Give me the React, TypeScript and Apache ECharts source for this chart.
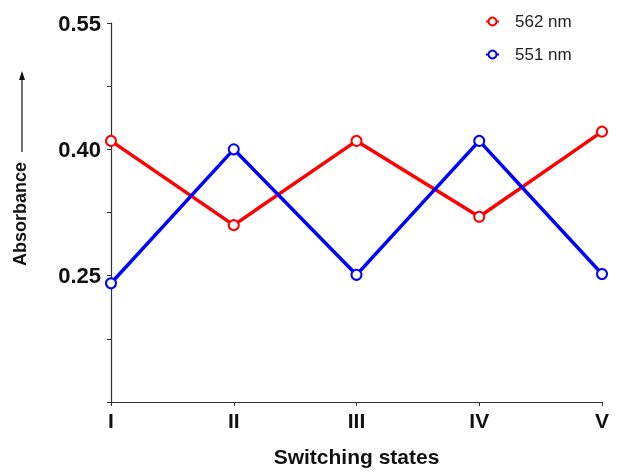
import React, { useEffect, useRef } from "react";
import * as echarts from "echarts";

const categories = ["I", "II", "III", "IV", "V"];
const series562 = [0.41, 0.31, 0.41, 0.32, 0.421];
const series551 = [0.241, 0.4, 0.251, 0.41, 0.252];
const yLabels = ["0.25", "0.40", "0.55"];
const seriesNames = ["562 nm", "551 nm"];

const FONT = "'Liberation Sans', Arial, sans-serif";

export default function App() {
  const ref = useRef<HTMLDivElement>(null);
  useEffect(() => {
    if (!ref.current) return;
    const chart = echarts.init(ref.current, undefined, { renderer: "svg" });
    const mk = (name: string, data: number[], color: string) => ({
      name,
      type: "line",
      data,
      symbol: "emptyCircle",
      symbolSize: 10,
      lineStyle: { color, width: 3.5 },
      itemStyle: { color, borderColor: color, borderWidth: 3 },
    });
    chart.setOption({
      animation: false,
      textStyle: { fontFamily: FONT },
      grid: { left: 111, right: 17, top: 23, bottom: 71 },
      legend: {
        orient: "vertical",
        left: 480,
        top: 8,
        itemGap: 16,
        itemWidth: 13,
        itemHeight: 10,
        textStyle: { fontSize: 17, color: "#222", fontFamily: FONT, padding: [0, 0, 0, 11] },
        data: seriesNames,
      },
      xAxis: {
        type: "category",
        data: categories,
        boundaryGap: false,
        axisLine: { lineStyle: { color: "#333", width: 1.2 } },
        axisTick: { show: true, alignWithLabel: true, length: 4, lineStyle: { color: "#333" } },
        axisLabel: { fontSize: 21, fontWeight: "bold", color: "#111", margin: 8, fontFamily: FONT },
        name: "Switching states",
        nameLocation: "middle",
        nameGap: 44,
        nameTextStyle: { fontSize: 21, fontWeight: "bold", color: "#111", fontFamily: FONT, verticalAlign: "top" },
        splitLine: { show: false },
      },
      yAxis: {
        type: "value",
        min: 0.1,
        max: 0.55,
        interval: 0.075,
        axisLine: { show: true, lineStyle: { color: "#333", width: 1.2 } },
        axisTick: { show: true, length: 4, lineStyle: { color: "#333" } },
        splitLine: { show: false },
        axisLabel: {
          fontSize: 22,
          fontWeight: "bold",
          color: "#111",
          margin: 10,
          fontFamily: FONT,
          formatter: (v: number) => {
            const s = v.toFixed(2);
            return yLabels.includes(s) ? s : "";
          },
        },
      },
      graphic: [
        {
          type: "text",
          x: 20,
          y: 214,
          rotation: Math.PI / 2,
          style: {
            text: "Absorbance",
            fontSize: 18,
            fontWeight: "bold",
            fontFamily: FONT,
            fill: "#111",
            align: "center",
            verticalAlign: "middle",
          },
        },
        {
          type: "line",
          shape: { x1: 22, y1: 152, x2: 22, y2: 78 },
          style: { stroke: "#111", lineWidth: 1.2 },
        },
        {
          type: "polygon",
          shape: { points: [[22, 71], [19, 80], [25, 80]] },
          style: { fill: "#111" },
        },
      ],
      series: [mk(seriesNames[0], series562, "#ff0000"), mk(seriesNames[1], series551, "#0000ff")],
    });
    return () => chart.dispose();
  }, []);
  return <div ref={ref} style={{ position: "fixed", left: 0, top: 0, width: 619, height: 473 }} />;
}
